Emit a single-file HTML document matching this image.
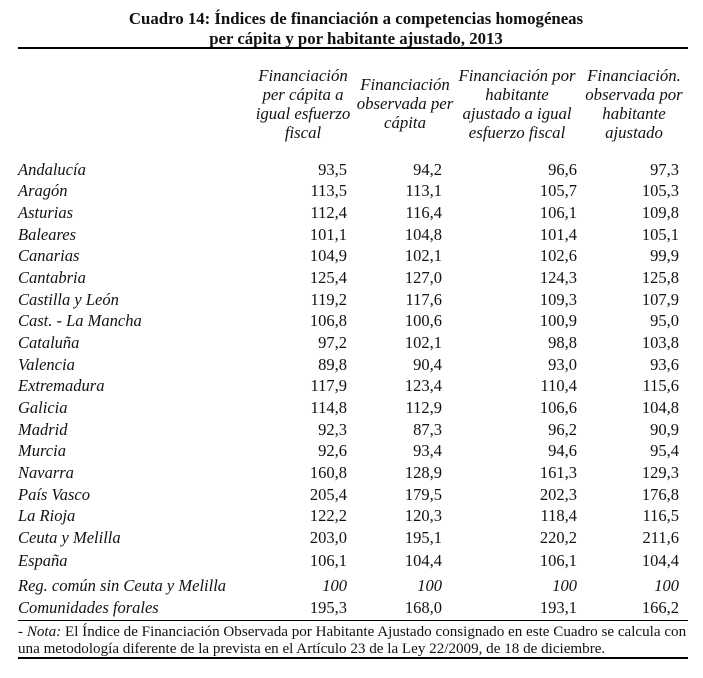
<!DOCTYPE html>
<html><head><meta charset="utf-8"><style>
body{margin:0;width:703px;height:678px;background:#fff;position:relative;overflow:hidden;font-family:"Liberation Serif",serif;color:#111}
.a{position:absolute;white-space:nowrap;line-height:1}
.t{font-weight:bold;font-size:16.8px;left:0;width:712px;text-align:center}
.h{font-style:italic;font-size:16.8px;text-align:center;line-height:19px;position:absolute;white-space:nowrap}
.l{font-style:italic;font-size:16.5px;left:18px}
.n{font-size:16.5px;text-align:right}
.line{position:absolute;left:18px;width:670px;background:#000}
.note{font-size:15.1px;left:18px}
</style></head><body>
<div class="a t" style="top:11px">Cuadro 14: Índices de financiación a competencias homogéneas</div>
<div class="a t" style="top:31px">per cápita y por habitante ajustado, 2013</div>
<div class="line" style="top:47px;height:2px"></div>
<div class="h" style="left:243px;width:120px;top:66px">Financiación<br>per cápita a<br>igual esfuerzo<br>fiscal</div>
<div class="h" style="left:350px;width:110px;top:75px">Financiación<br>observada per<br>cápita</div>
<div class="h" style="left:452px;width:130px;top:66px">Financiación por<br>habitante<br>ajustado a igual<br>esfuerzo fiscal</div>
<div class="h" style="left:579px;width:110px;top:66px">Financiación.<br>observada por<br>habitante<br>ajustado</div>
<div id="rows"></div>
<div class="line" style="top:620px;height:1px"></div>
<div class="a note" style="top:625px">- <i>Nota:</i> El Índice de Financiación Observada por Habitante Ajustado consignado en este Cuadro se calcula con</div>
<div class="a note" style="top:642px">una metodología diferente de la prevista en el Artículo 23 de la Ley 22/2009, de 18 de diciembre.</div>
<div class="line" style="top:657px;height:2px"></div>
<script>
const regions=["Andalucía","Aragón","Asturias","Baleares","Canarias","Cantabria","Castilla y León","Cast. - La Mancha","Cataluña","Valencia","Extremadura","Galicia","Madrid","Murcia","Navarra","País Vasco","La Rioja","Ceuta y Melilla","España","Reg. común sin Ceuta y Melilla","Comunidades forales"];
const col1=["93,5","113,5","112,4","101,1","104,9","125,4","119,2","106,8","97,2","89,8","117,9","114,8","92,3","92,6","160,8","205,4","122,2","203,0","106,1","100","195,3"];
const col2=["94,2","113,1","116,4","104,8","102,1","127,0","117,6","100,6","102,1","90,4","123,4","112,9","87,3","93,4","128,9","179,5","120,3","195,1","104,4","100","168,0"];
const col3=["96,6","105,7","106,1","101,4","102,6","124,3","109,3","100,9","98,8","93,0","110,4","106,6","96,2","94,6","161,3","202,3","118,4","220,2","106,1","100","193,1"];
const col4=["97,3","105,3","109,8","105,1","99,9","125,8","107,9","95,0","103,8","93,6","115,6","104,8","90,9","95,4","129,3","176,8","116,5","211,6","104,4","100","166,2"];
const rowY=[169,190,212,234,255,277,299,320,342,364,385,407,429,450,472,494,515,537,560,585,607];
const rights=[347,442,577,679];
const cont=document.getElementById('rows');
regions.forEach((r,i)=>{
  const y=rowY[i]-7;
  const d=document.createElement('div');
  d.className='a l';d.style.top=y+'px';d.textContent=r;
  
  
  cont.appendChild(d);
  [col1,col2,col3,col4].forEach((c,j)=>{
    const v=document.createElement('div');
    v.className='a n';v.style.top=y+'px';v.style.right=(703-rights[j])+'px';
    v.textContent=c[i];
    if(c[i]==="100")v.style.fontStyle='italic';
    
    
    cont.appendChild(v);
  });
});
</script>
</body></html>
